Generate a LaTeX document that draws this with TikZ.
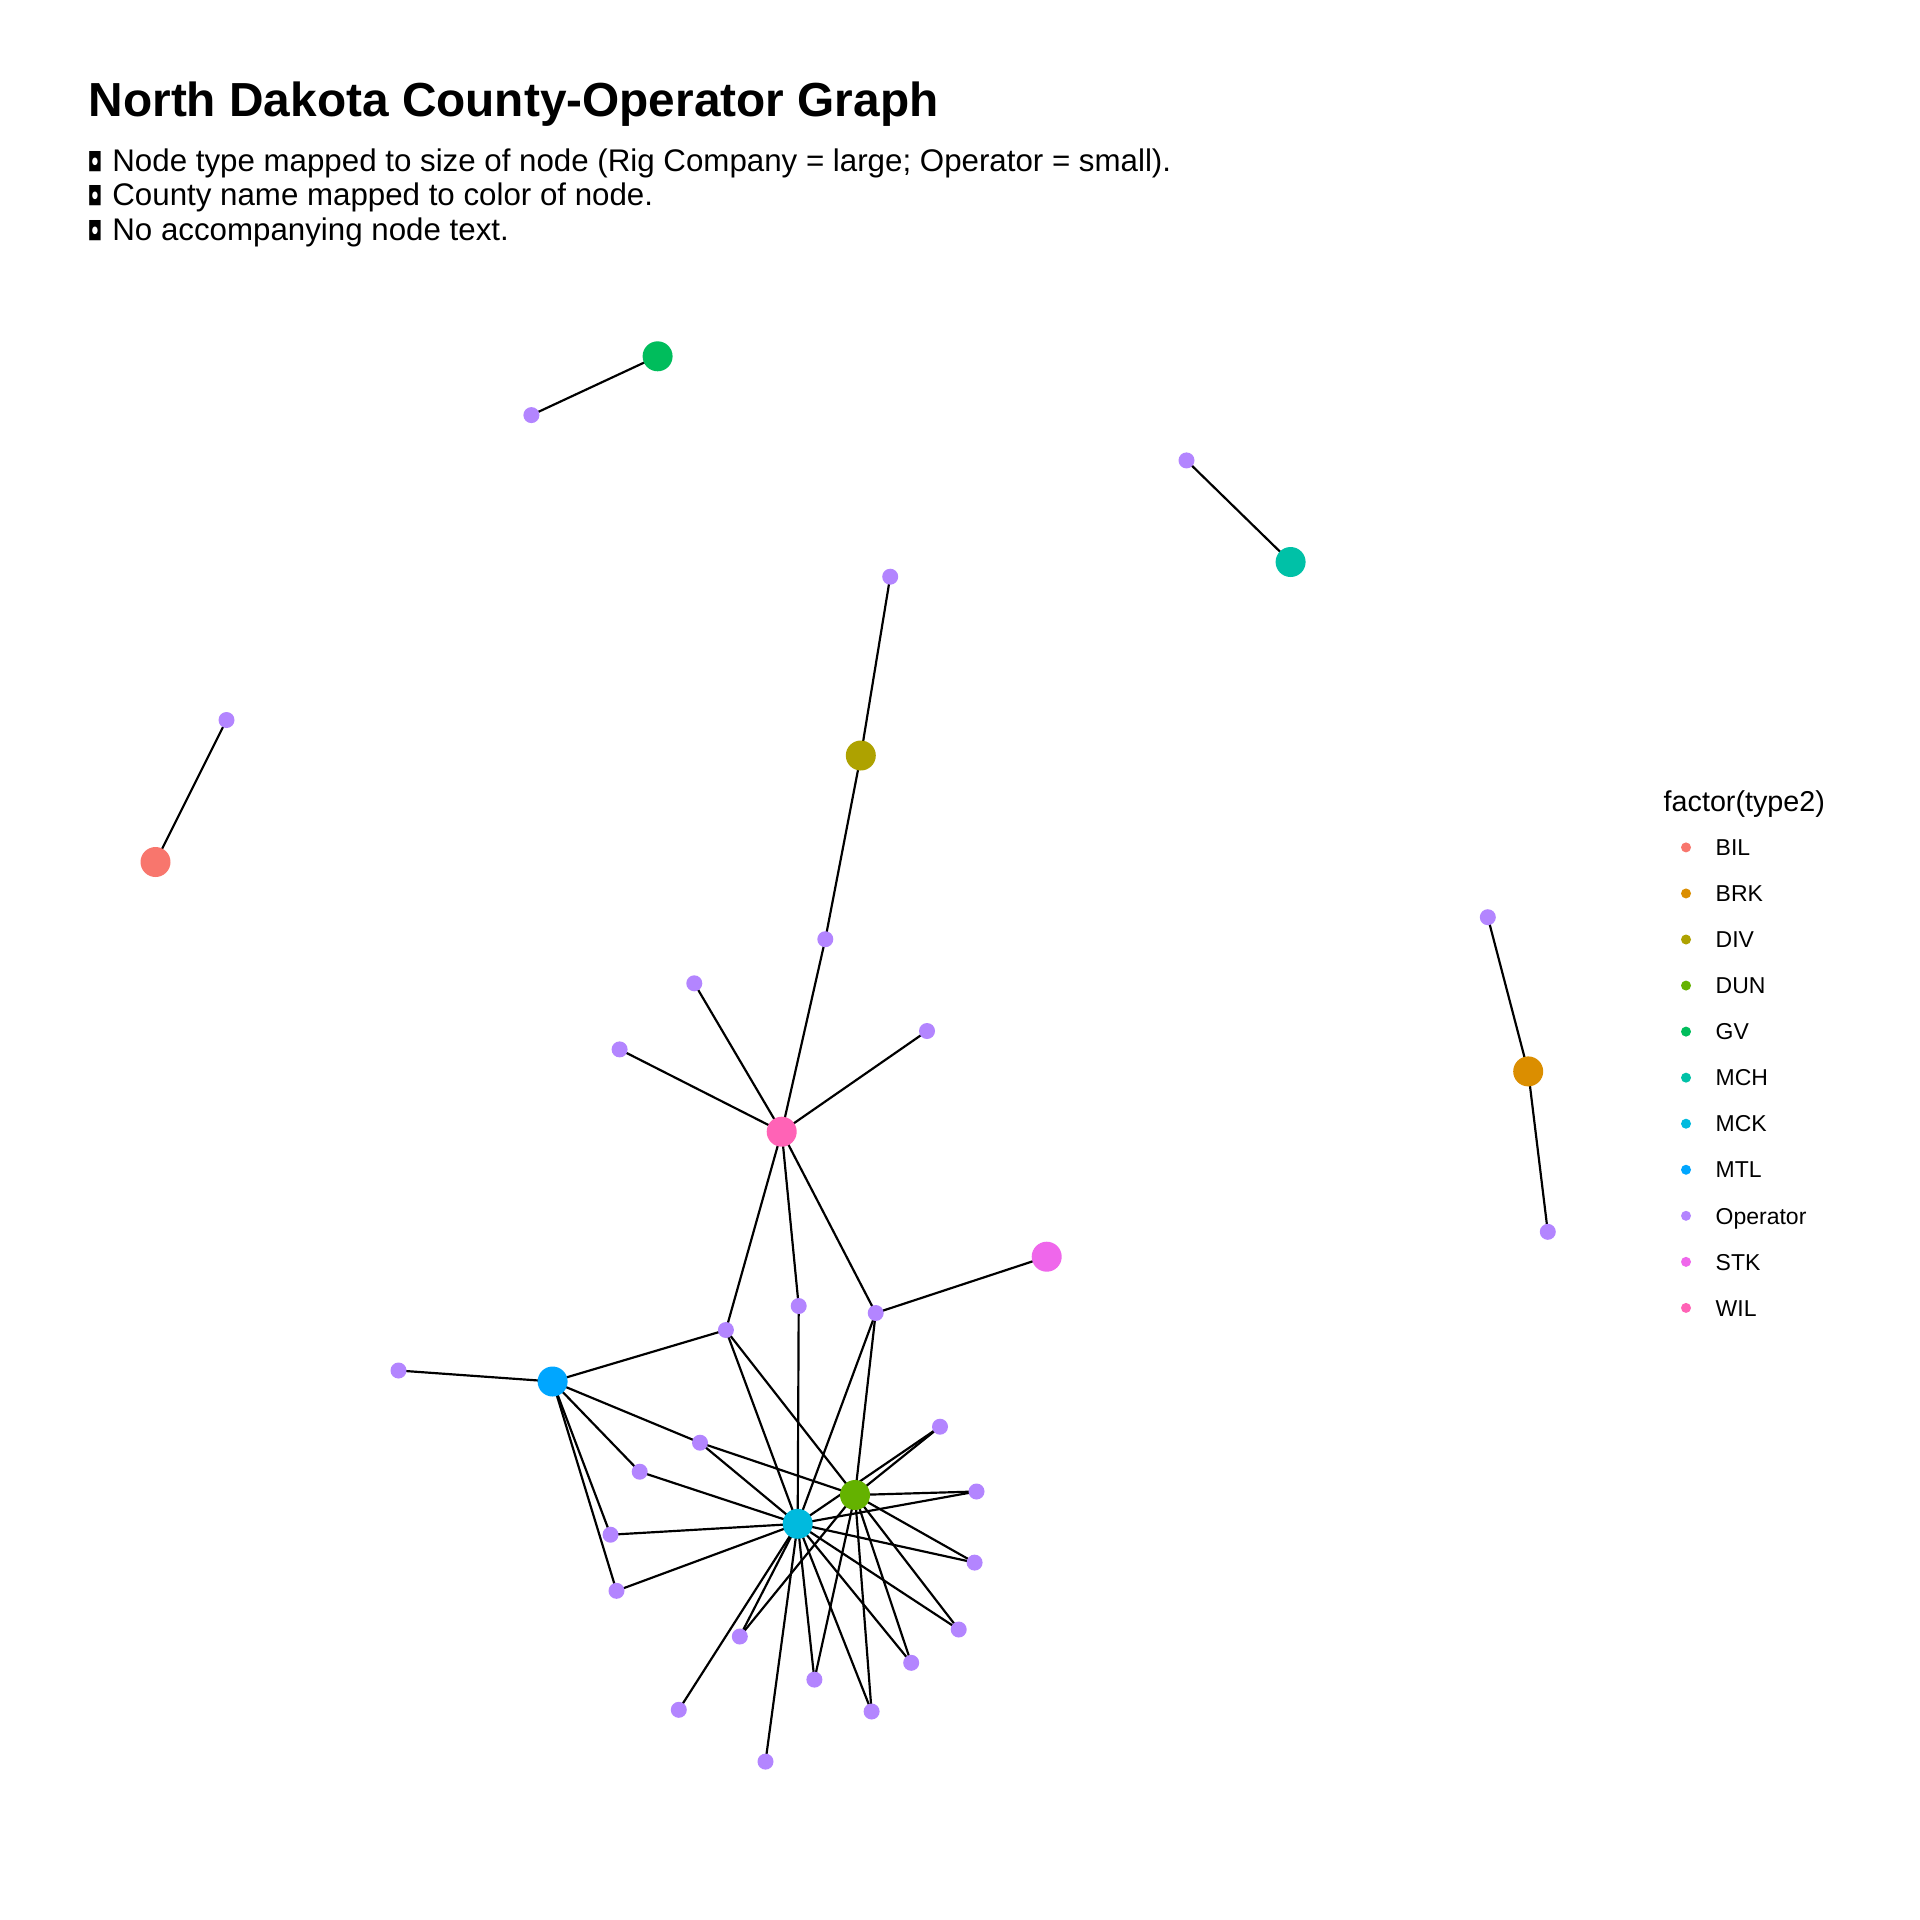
\documentclass[tikz,border=0pt]{standalone}
\usepackage{fontspec}
\setmainfont{Liberation Sans}
\newfontfamily\symfont{DejaVu Sans}
\pgfdeclarelayer{bg}
\pgfsetlayers{bg,main}
\definecolor{cBIL}{HTML}{F8766D}
\definecolor{cBRK}{HTML}{DB8E00}
\definecolor{cDIV}{HTML}{AEA200}
\definecolor{cDUN}{HTML}{64B200}
\definecolor{cGV}{HTML}{00BD5C}
\definecolor{cMCH}{HTML}{00C1A7}
\definecolor{cMCK}{HTML}{00BADE}
\definecolor{cMTL}{HTML}{00A6FF}
\definecolor{cOP}{HTML}{B385FF}
\definecolor{cSTK}{HTML}{EF67EB}
\definecolor{cWIL}{HTML}{FF63B6}
\newcommand{\bulletbox}{\makebox[7.03pt][l]{\scalebox{0.72}[1]{\symfont\fontsize{7.4pt}{8pt}\selectfont ◘}}}
\tikzset{
  rig/.style={circle, inner sep=0pt, minimum size=3mm, draw=none},
  opnode/.style={circle, inner sep=0pt, minimum size=1.6mm, fill=cOP, draw=none},
  link/.style={black, line width=0.62pt},
  ldot/.style={circle, inner sep=0pt, minimum size=1mm, draw=none},
  ltext/.style={anchor=base west, inner sep=0pt, font=\fontsize{6.54pt}{7pt}\selectfont},
  subline/.style={anchor=base west, inner sep=0pt, font=\fontsize{8.9pt}{10pt}\selectfont},
}
\begin{document}
\begin{tikzpicture}[x=0.1mm,y=-0.1mm]
\useasboundingbox (0,0) rectangle (1920,1920);
\begin{pgfonlayer}{bg}
\fill[white] (0,0) rectangle (1920,1920);
\end{pgfonlayer}

% title and subtitle
\node[anchor=base west, inner sep=0pt, font=\fontsize{13.6pt}{15pt}\selectfont\bfseries] (title) at (88,116.7) {North Dakota County-Operator Graph};
\node[subline] (s1) at (87,171.7) {\bulletbox Node type mapped to size of node (Rig Company = large; Operator = small).};
\node[subline] (s2) at (87,205.9) {\bulletbox County name mapped to color of node.};
\node[subline] (s3) at (87,240.1) {\bulletbox No accompanying node text.};

% rig company nodes
\node[rig, fill=cGV]  (GV)  at (657.6,356.3) {};
\node[rig, fill=cMCH] (MCH) at (1290.6,562) {};
\node[rig, fill=cDIV] (DIV) at (860.8,755.5) {};
\node[rig, fill=cBIL] (BIL) at (155.5,862) {};
\node[rig, fill=cBRK] (BRK) at (1528.2,1071.4) {};
\node[rig, fill=cWIL] (WIL) at (781.7,1131.7) {};
\node[rig, fill=cSTK] (STK) at (1046.7,1256.7) {};
\node[rig, fill=cMTL] (MTL) at (552.6,1381.5) {};
\node[rig, fill=cMCK] (MCK) at (797.7,1523.8) {};
\node[rig, fill=cDUN] (DUN) at (855,1495) {};

% operator nodes
\node[opnode] (o1)  at (531.4,415.1) {};
\node[opnode] (o2)  at (1186.5,460.4) {};
\node[opnode] (o3)  at (890.2,576.7) {};
\node[opnode] (o4)  at (226.5,720) {};
\node[opnode] (o5)  at (825.3,939.2) {};
\node[opnode] (o6)  at (694.3,983.3) {};
\node[opnode] (o7)  at (619.6,1049.4) {};
\node[opnode] (o8)  at (927,1031) {};
\node[opnode] (o9)  at (1487.8,917.2) {};
\node[opnode] (o10) at (1547.8,1231.8) {};
\node[opnode] (o11) at (725.9,1330) {};
\node[opnode] (o12) at (798.7,1306) {};
\node[opnode] (o13) at (875.7,1313) {};
\node[opnode] (o14) at (398.5,1370.5) {};
\node[opnode] (o15) at (700,1442.7) {};
\node[opnode] (o16) at (639.7,1471.7) {};
\node[opnode] (o17) at (610.5,1534.7) {};
\node[opnode] (o18) at (616.5,1590.8) {};
\node[opnode] (o19) at (940,1426.7) {};
\node[opnode] (o20) at (976.5,1491.5) {};
\node[opnode] (o21) at (974.6,1562.6) {};
\node[opnode] (o22) at (958.7,1629.5) {};
\node[opnode] (o23) at (911.2,1662.8) {};
\node[opnode] (o24) at (871.6,1711.5) {};
\node[opnode] (o25) at (814.4,1679.6) {};
\node[opnode] (o26) at (739.8,1636.5) {};
\node[opnode] (o27) at (678.8,1709.8) {};
\node[opnode] (o28) at (765.5,1761.6) {};

% edges
\begin{pgfonlayer}{bg}
\foreach \a/\b in {GV/o1, MCH/o2, DIV/o3, DIV/o5, WIL/o5, BIL/o4, BRK/o9, BRK/o10,
  WIL/o6, WIL/o7, WIL/o8, WIL/o11, WIL/o12, WIL/o13, STK/o13,
  MTL/o11, MTL/o14, MTL/o15, MTL/o16, MTL/o17, MTL/o18,
  MCK/o11, DUN/o11, MCK/o12, MCK/o13, DUN/o13, MCK/o15, DUN/o15,
  MCK/o16, MCK/o17, MCK/o18,
  MCK/o19, MCK/o20, MCK/o21, MCK/o22, MCK/o23, MCK/o24, MCK/o25, MCK/o26, MCK/o27, MCK/o28,
  DUN/o19, DUN/o20, DUN/o21, DUN/o22, DUN/o23, DUN/o24, DUN/o25, DUN/o26}
  \draw[link] (\a.center) -- (\b.center);
\end{pgfonlayer}

% legend
\node[anchor=base west, inner sep=0pt, font=\fontsize{8.17pt}{9pt}\selectfont] (ltitle) at (1663,811.7) {factor(type2)};
\foreach \c/\lab [count=\i from 0] in {cBIL/BIL, cBRK/BRK, cDIV/DIV, cDUN/DUN, cGV/GV, cMCH/MCH, cMCK/MCK, cMTL/MTL, cOP/Operator, cSTK/STK, cWIL/WIL} {
  \node[ldot, fill=\c] (ld\i) at (1686, 847.4+46.05*\i) {};
  \node[ltext] (lt\i) at (1715, 855.6+46.05*\i) {\lab};
}
\end{tikzpicture}
\end{document}
